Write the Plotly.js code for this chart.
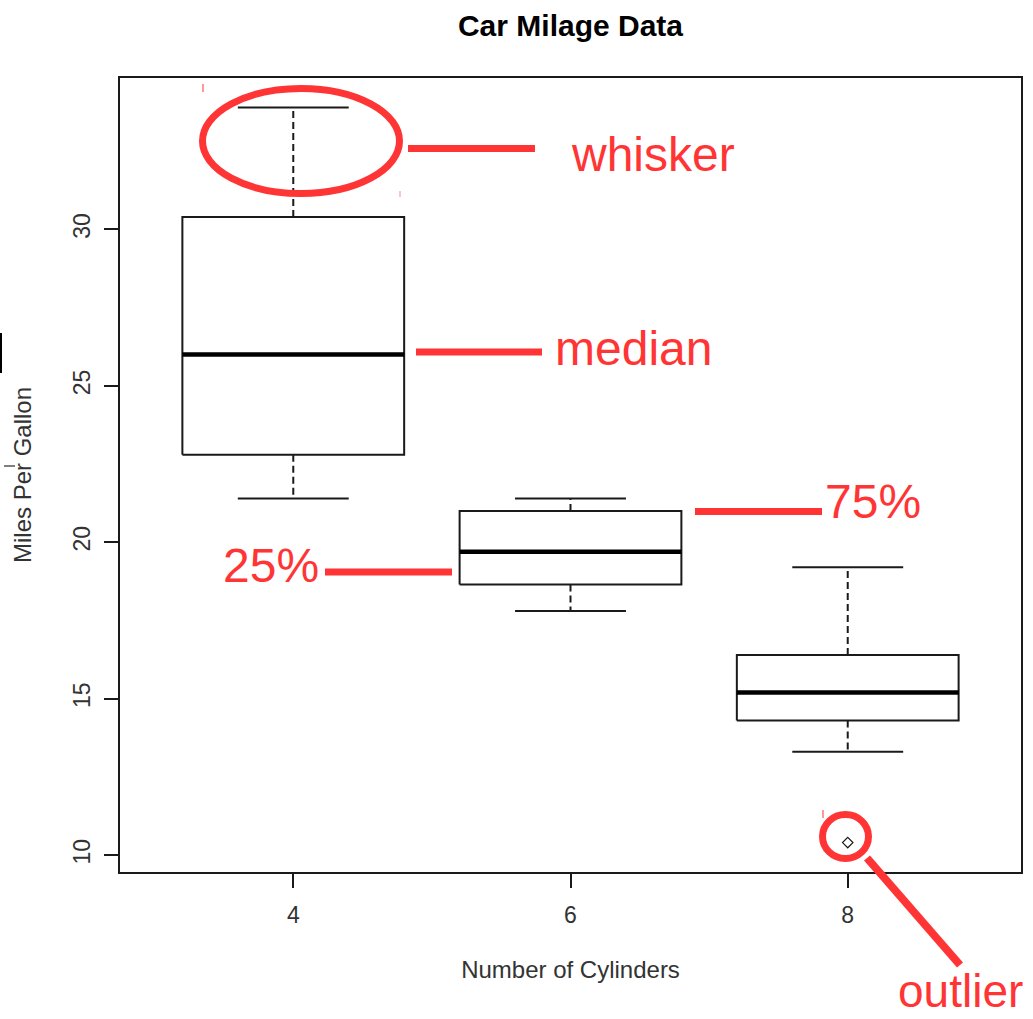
<!DOCTYPE html>
<html>
<head>
<meta charset="utf-8">
<script src="https://cdn.plot.ly/plotly-3.0.1.min.js"></script>
<style>
  html, body { margin: 0; padding: 0; background: #fff; }
  #chart { width: 1033px; height: 1019px; }
</style>
</head>
<body>
<div id="chart"></div>
<script>
// ---- data (mtcars mpg by number of cylinders) ----
const cylinders     = ['4', '6', '8'];
const positions     = [1, 2, 3];
const lowerWhisker  = [21.4, 17.8, 13.3];
const q1            = [22.8, 18.65, 14.3];
const median        = [26.0, 19.7, 15.2];
const q3            = [30.4, 21.0, 16.4];
const upperWhisker  = [33.9, 21.4, 19.2];
const outlierPos    = [3];
const outlierValues = [10.4];
const yTicks        = [10, 15, 20, 25, 30];

// ---- style constants ----
const BOX_HALF = 0.4, CAP_HALF = 0.2;
const INK = '#1a1a1a';
const RED = '#ff3535';
const FONT = 'Liberation Sans, Arial, Helvetica, sans-serif';

const W = 1033, H = 1019;
const L = 120, R = 12, T = 78, B = 147;
const pw = W - L - R, ph = H - T - B;
const px = x => (x - L) / pw;
const py = y => (H - B - y) / ph;

const traces = [];
positions.forEach((p, i) => {
  // box rectangle
  traces.push({
    type: 'scatter', mode: 'lines', hoverinfo: 'skip', showlegend: false,
    x: [p - BOX_HALF, p + BOX_HALF, p + BOX_HALF, p - BOX_HALF, p - BOX_HALF],
    y: [q1[i], q1[i], q3[i], q3[i], q1[i]],
    line: { color: INK, width: 2 }
  });
  // median
  traces.push({
    type: 'scatter', mode: 'lines', hoverinfo: 'skip', showlegend: false,
    x: [p - BOX_HALF, p + BOX_HALF], y: [median[i], median[i]],
    line: { color: '#000', width: 4.5 }
  });
  // whiskers (dashed)
  traces.push({
    type: 'scatter', mode: 'lines', hoverinfo: 'skip', showlegend: false,
    x: [p, p, null, p, p], y: [q3[i], upperWhisker[i], null, q1[i], lowerWhisker[i]],
    line: { color: INK, width: 2, dash: '7px,4px' }
  });
  // caps
  traces.push({
    type: 'scatter', mode: 'lines', hoverinfo: 'skip', showlegend: false,
    x: [p - CAP_HALF, p + CAP_HALF, null, p - CAP_HALF, p + CAP_HALF],
    y: [upperWhisker[i], upperWhisker[i], null, lowerWhisker[i], lowerWhisker[i]],
    line: { color: INK, width: 2 }
  });
});
traces.push({
  type: 'scatter', mode: 'markers', hoverinfo: 'skip', showlegend: false,
  x: outlierPos, y: outlierValues,
  marker: { symbol: 'diamond-open', size: 8, color: INK, line: { width: 1.2, color: INK } }
});

const redLine = (x0, y0, x1, y1, w) => ({
  type: 'line', xref: 'paper', yref: 'paper',
  x0: px(x0), y0: py(y0), x1: px(x1), y1: py(y1),
  line: { color: RED, width: w }
});
const redEllipse = (x0, y0, x1, y1, w) => ({
  type: 'circle', xref: 'paper', yref: 'paper',
  x0: px(x0), y0: py(y1), x1: px(x1), y1: py(y0),
  line: { color: RED, width: w }
});

const shapes = [
  redEllipse(202.5, 88.5, 399.5, 193.5, 7),
  redLine(408, 148.5, 535, 148.5, 7),
  redLine(416, 352, 542, 352, 7),
  redLine(695, 511.5, 822, 511.5, 7),
  redLine(325, 572, 452, 572, 7),
  redEllipse(822.5, 814.5, 868.5, 858.5, 7),
  redLine(867, 858, 960, 965, 8),
  // small stray marks
  redLine(203, 84, 203, 92, 1),
  { type: 'line', xref: 'paper', yref: 'paper', x0: px(400), x1: px(400), y0: py(191), y1: py(197), line: { color: '#ffb0b0', width: 1.5 } },
  redLine(823, 810, 823, 818, 1),
  { type: 'line', xref: 'paper', yref: 'paper', x0: px(1), x1: px(1), y0: py(333), y1: py(373), line: { color: '#000', width: 2 } },
  { type: 'line', xref: 'paper', yref: 'paper', x0: px(4), x1: px(15), y0: py(466), y1: py(466), line: { color: '#000', width: 1 } }
];

const redText = (text, xLeft, yCenter, size) => ({
  text, xref: 'paper', yref: 'paper', x: px(xLeft), y: py(yCenter),
  xanchor: 'left', yanchor: 'middle', showarrow: false,
  font: { family: FONT, size: size || 48, color: RED }
});
const annotations = [
  redText('whisker', 569, 154),
  redText('median', 553, 348),
  redText('75%', 823, 501),
  redText('25%', 221, 565),
  redText('outlier', 896, 991, 46)
];

const layout = {
  width: W, height: H,
  margin: { l: L, r: R, t: T, b: B, pad: 0 },
  paper_bgcolor: '#fff', plot_bgcolor: '#fff',
  font: { family: FONT, color: '#333', size: 23 },
  showlegend: false,
  title: {
    text: '<b>Car Milage Data</b>',
    font: { family: FONT, size: 30, color: '#000' },
    xref: 'paper', x: 0.5, xanchor: 'center',
    yref: 'container', y: 1 - 25 / H, yanchor: 'middle'
  },
  xaxis: {
    range: [0.375, 3.625],
    tickmode: 'array', tickvals: positions, ticktext: cylinders,
    ticks: 'outside', ticklen: 14, tickwidth: 2, tickcolor: INK,
    ticklabelstandoff: 7,
    showline: true, mirror: true, linewidth: 2, linecolor: INK,
    showgrid: false, zeroline: false,
    tickfont: { family: FONT, size: 23, color: '#333' },
    title: { text: 'Number of Cylinders', font: { family: FONT, size: 24, color: '#333' }, standoff: 35 },
    automargin: false, fixedrange: true
  },
  yaxis: {
    range: [9.46, 34.84],
    tickmode: 'array', tickvals: yTicks, ticktext: yTicks.map(String),
    tickangle: -90,
    ticks: 'outside', ticklen: 14, tickwidth: 2, tickcolor: INK,
    ticklabelstandoff: 5,
    showline: true, mirror: true, linewidth: 2, linecolor: INK,
    showgrid: false, zeroline: false,
    tickfont: { family: FONT, size: 23, color: '#333' },
    title: { text: 'Miles Per Gallon', font: { family: FONT, size: 24, color: '#333' }, standoff: 30 },
    automargin: false, fixedrange: true
  },
  shapes, annotations
};

Plotly.newPlot('chart', traces, layout, { staticPlot: true, displayModeBar: false });
</script>
</body>
</html>
